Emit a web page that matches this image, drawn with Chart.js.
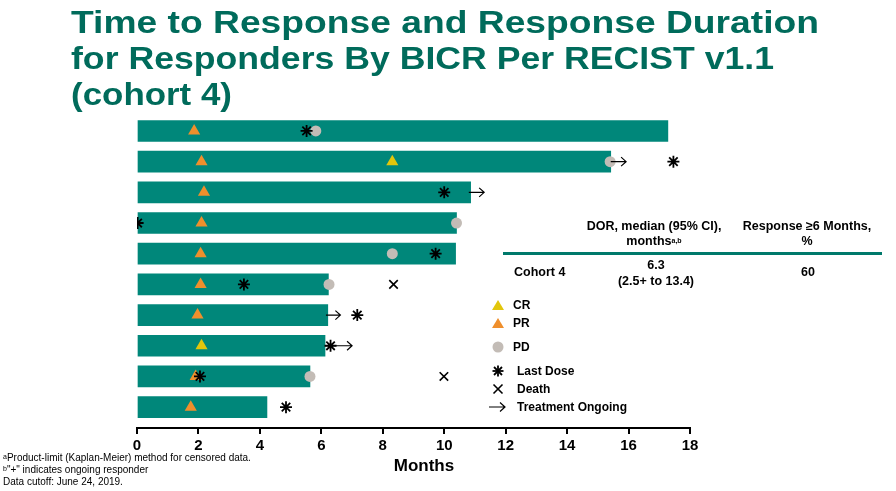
<!DOCTYPE html>
<html>
<head>
<meta charset="utf-8">
<script src="https://cdn.jsdelivr.net/npm/chart.js@4.4.1/dist/chart.umd.min.js"></script>
<style>
  html, body { margin:0; padding:0; background:#fff; }
  body { width:896px; height:491px; position:relative; overflow:hidden; font-family:'Liberation Sans', Arial, sans-serif; color:#000; }
  .abs { position:absolute; white-space:nowrap; }
  .tl { position:absolute; left:71px; font-size:32px; line-height:36px; font-weight:bold; color:#006b5b; white-space:nowrap; transform-origin:0 50%; }
  #wrap { position:absolute; left:0; top:0; width:896px; height:491px; }
  .hdr { font-size:12.5px; font-weight:bold; line-height:15px; text-align:center; transform:translateX(-50%); }
  .cell { font-size:12.5px; font-weight:bold; line-height:16px; }
  .leg { font-size:12px; font-weight:bold; line-height:14px; }
  .foot { font-size:10px; line-height:12px; left:3px; top:452px; }
  sup { font-size:7px; vertical-align:top; position:relative; top:-1px; }
</style>
</head>
<body>
<div id="wrap"><canvas id="c" width="896" height="491"></canvas></div>
<div class="tl" style="top:4px;" data-w="748">Time to Response and Response Duration</div>
<div class="tl" style="top:40px;" data-w="703">for Responders By BICR Per RECIST v1.1</div>
<div class="tl" style="top:76px;" data-w="161">(cohort 4)</div>

<div class="abs hdr" style="left:654px; top:219px;">DOR, median (95% CI),<br>months<sup>a,b</sup></div>
<div class="abs hdr" style="left:807px; top:219px;">Response ≥6 Months,<br>%</div>
<div class="abs" style="left:503px; top:252px; width:379px; height:3px; background:#00796b;"></div>
<div class="abs cell" style="left:514px; top:264px;">Cohort 4</div>
<div class="abs cell" style="left:656px; top:257px; transform:translateX(-50%); text-align:center;">6.3<br>(2.5+ to 13.4)</div>
<div class="abs cell" style="left:808px; top:264px; transform:translateX(-50%);">60</div>

<div class="abs" style="left:424px; top:456px; transform:translateX(-50%); font-size:17px; font-weight:bold; line-height:20px;">Months</div>

<div id="legend"></div>

<div class="abs foot"><sup>a</sup>Product-limit (Kaplan-Meier) method for censored data.<br><sup>b</sup>"+" indicates ongoing responder<br>Data cutoff: June 24, 2019.</div>

<script>
// ---- data ----
const rows = [1,2,3,4,5,6,7,8,9,10];
const barEnd = [17.28, 15.42, 10.86, 10.40, 10.37, 6.23, 6.21, 6.12, 5.63, 4.23];

const prRows = [1,2,3,4,5,6,7,9,10];
const prX    = [1.86, 2.10, 2.18, 2.10, 2.07, 2.07, 1.97, 1.91, 1.75];

const crRows = [2, 8];
const crX    = [8.31, 2.10];

const pdRows = [1, 2, 4, 5, 6, 9];
const pdX    = [5.82, 15.40, 10.40, 8.31, 6.25, 5.63];

const doseRows = [1,2,3,4,5,6,7,8,9,10];
const doseX    = [5.52, 17.46, 10.00, 0.02, 9.72, 3.48, 7.17, 6.30, 2.05, 4.85];

const deathRows = [6, 9];
const deathX    = [8.35, 9.99];

const arrowRows  = [2, 3, 7, 8];
const arrowStart = [15.42, 10.80, 6.15, 6.12];
const arrowEnd   = [15.92, 11.30, 6.62, 7.00];

const xTicks = [0,2,4,6,8,10,12,14,16,18];

// ---- colours ----
const TEAL = '#00877a', CR_C = '#e2c60c', PR_C = '#ef8f2c', PD_C = '#c3bcb6';

const pts = (xs, ys) => xs.map((x, i) => ({x: x, y: ys[i]}));

const arrowPlugin = {
  id: 'arrows',
  afterDatasetsDraw(chart) {
    const ctx = chart.ctx, xs = chart.scales.x, ys = chart.scales.y;
    ctx.save();
    ctx.strokeStyle = '#000';
    ctx.lineWidth = 1.2;
    arrowRows.forEach((r, i) => {
      const y = ys.getPixelForValue(r);
      const x0 = xs.getPixelForValue(arrowStart[i]);
      const x1 = xs.getPixelForValue(arrowEnd[i]);
      ctx.beginPath();
      ctx.moveTo(x0, y); ctx.lineTo(x1, y);
      ctx.moveTo(x1 - 5, y - 4.5); ctx.lineTo(x1, y); ctx.lineTo(x1 - 5, y + 4.5);
      ctx.stroke();
    });
    ctx.restore();
  }
};

new Chart(document.getElementById('c'), {
  type: 'scatter',
  data: {
    datasets: [
      { label: 'Death', data: pts(deathX, deathRows), pointStyle: 'crossRot', radius: 6, borderColor: '#000', borderWidth: 1.6, order: 1 },
      { label: 'Last Dose', data: pts(doseX, doseRows), pointStyle: 'star', radius: 6, borderColor: '#000', borderWidth: 1.8, order: 1 },
      { label: 'CR', data: pts(crX, crRows), pointStyle: 'triangle', radius: 7, backgroundColor: CR_C, borderColor: CR_C, borderWidth: 0, order: 2 },
      { label: 'PR', data: pts(prX, prRows), pointStyle: 'triangle', radius: 7, backgroundColor: PR_C, borderColor: PR_C, borderWidth: 0, order: 2 },
      { label: 'PD', data: pts(pdX, pdRows), pointStyle: 'circle', radius: 5.5, backgroundColor: PD_C, borderColor: PD_C, borderWidth: 0, order: 3 },
      { type: 'bar', label: 'Duration', indexAxis: 'y',
        data: barEnd.map((e, i) => ({x: [0, e], y: rows[i]})),
        backgroundColor: TEAL, borderWidth: 0, barThickness: 21, order: 10 }
    ]
  },
  options: {
    responsive: false,
    animation: false,
    events: [],
    layout: { padding: { left: 137, right: 206, top: 115, bottom: 0 } },
    plugins: { legend: { display: false }, tooltip: { enabled: false } },
    elements: { point: { hoverRadius: 0 } },
    scales: {
      x: {
        type: 'linear', min: 0, max: 18, offset: false,
        afterBuildTicks: (s) => { s.ticks = xTicks.map(v => ({value: v})); },
        afterFit: (s) => { s.height = 63; },
        border: { display: true, color: '#000', width: 2 },
        grid: { display: true, offset: false, drawOnChartArea: false, drawTicks: true, tickLength: 6, color: '#000', lineWidth: 2 },
        ticks: { color: '#000', font: { family: "'Liberation Sans', Arial, sans-serif", size: 15, weight: 'bold' }, padding: 3, maxRotation: 0, autoSkip: false }
      },
      y: {
        type: 'linear', reverse: true, min: 0.48, max: 10.68, display: false, offset: false,
        grid: { offset: false }
      }
    }
  },
  plugins: [arrowPlugin]
});

// ---- title width fitting ----
document.querySelectorAll('.tl').forEach(el => {
  const w = el.getBoundingClientRect().width;
  el.style.transform = 'scaleX(' + (parseFloat(el.dataset.w) / w) + ')';
});

// ---- legend (HTML) ----
const legItems = [
  { t: 'CR', y: 305, tx: 513, svg: `<polygon points="1,11 7,1 13,11" fill="${CR_C}"/>` },
  { t: 'PR', y: 323, tx: 513, svg: `<polygon points="1,11 7,1 13,11" fill="${PR_C}"/>` },
  { t: 'PD', y: 347, tx: 513, svg: `<circle cx="7" cy="6" r="5.5" fill="${PD_C}"/>` },
  { t: 'Last Dose', y: 371, tx: 517, svg: `<g stroke="#000" stroke-width="1.8"><line x1="7" y1="0.5" x2="7" y2="11.5"/><line x1="1.5" y1="6" x2="12.5" y2="6"/><line x1="3" y1="2" x2="11" y2="10"/><line x1="11" y1="2" x2="3" y2="10"/></g>` },
  { t: 'Death', y: 389, tx: 517, svg: `<g stroke="#000" stroke-width="1.6"><line x1="2.5" y1="1.5" x2="11.5" y2="10.5"/><line x1="11.5" y1="1.5" x2="2.5" y2="10.5"/></g>` },
  { t: 'Treatment Ongoing', y: 407, tx: 517, svg: `<g stroke="#000" stroke-width="1.2" fill="none"><path d="M-2,6 L14,6 M9,1.5 L14,6 L9,10.5"/></g>` }
];
const leg = document.getElementById('legend');
legItems.forEach(it => {
  const m = document.createElement('div');
  m.className = 'abs';
  m.style.left = (498 - 7) + 'px';
  m.style.top = (it.y - 6) + 'px';
  m.innerHTML = `<svg width="16" height="12" viewBox="0 0 16 12" style="overflow:visible;display:block">${it.svg}</svg>`;
  leg.appendChild(m);
  const t = document.createElement('div');
  t.className = 'abs leg';
  t.style.left = it.tx + 'px';
  t.style.top = (it.y - 7) + 'px';
  t.textContent = it.t;
  leg.appendChild(t);
});
</script>
</body>
</html>
